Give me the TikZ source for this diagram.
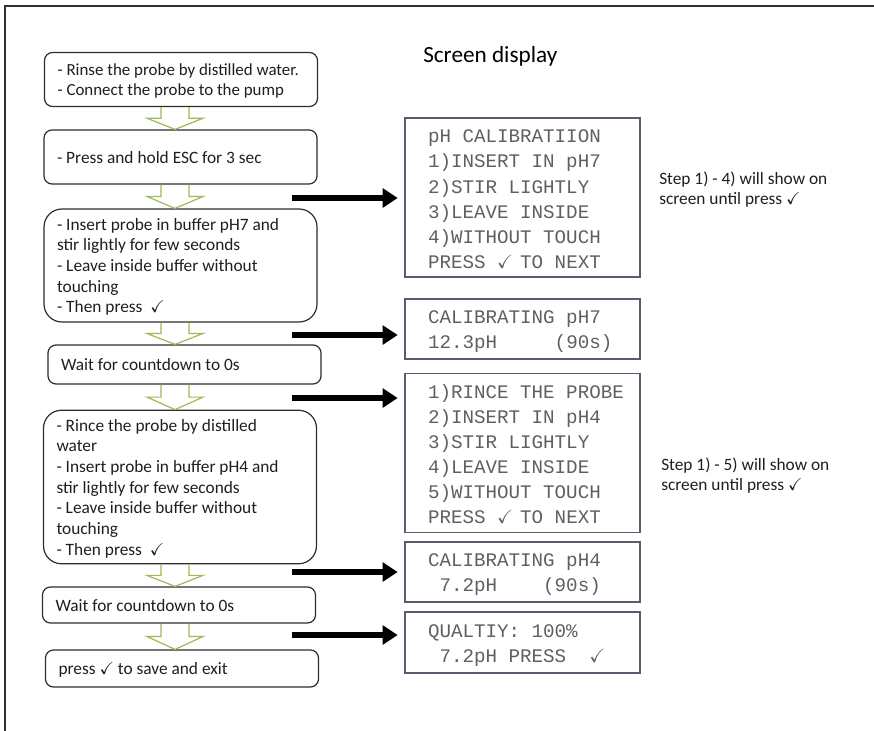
\documentclass[tikz,border=0pt]{standalone}
\usepackage{amsmath}
\usepackage{amssymb}
\usepackage{fontspec}
\setmainfont{Carlito}
\setmonofont{Liberation Mono}
\usetikzlibrary{arrows.meta,calc}

% lines of a box, set left, never broken, with the font's own spaces
\newcommand\boxlines[2][-1.5pt]{{\spaceskip=0pt\xspaceskip=0pt\raisebox{#1}[\height][\depth]{\begin{tabular}{@{}l@{}}#2\end{tabular}}}}
% one fixed cell of the screen font
\newcommand\scrcell[1]{\makebox[0.6em][l]{#1}}

\begin{document}
\begin{tikzpicture}[x=0.75pt,y=0.75pt,yscale=-1,xscale=1,
  stepbox/.style={draw={rgb, 255:red, 45; green, 45; blue, 45 }, line width=0.9pt, rounded corners=6pt, minimum width=204.75pt, text width=185.25pt, inner xsep=9.75pt, align=left, text={rgb, 255:red, 30; green, 30; blue, 30 }, font=\fontsize{13}{15.5}\selectfont},
  screenbox/.style={draw={rgb, 255:red, 88; green, 92; blue, 112 }, line width=1pt, minimum width=176.25pt, text width=141.75pt, inner xsep=17.25pt, align=left, text={rgb, 255:red, 95; green, 95; blue, 95 }, font=\ttfamily\frenchspacing\fontsize{14.4}{18.75}\selectfont},
  notetext/.style={anchor=west, inner sep=0pt, align=left, text={rgb, 255:red, 30; green, 30; blue, 30 }, font=\fontsize{13}{15}\selectfont},
  grnarrow/.style={draw={rgb, 255:red, 155; green, 187; blue, 89 }, line width=0.9pt, line join=miter},
  blkarrow/.style={line width=3.9pt, -{Triangle[length=11.25pt,width=14pt]}, shorten >=5pt}
]
\useasboundingbox (0,0) rectangle (874,731);

%Shape: Frame
\draw [line width=1.5pt, draw={rgb, 255:red, 50; green, 50; blue, 50 }] (874,6) -- (5,6) -- (5,731) ;

% Text Node
\node (ttl) [anchor=west, inner sep=0pt, font=\fontsize{17.4}{20}\selectfont] at (423,56.5) {Screen display};

%Shape: Rounded Rect (steps)
\node (b1) [stepbox, minimum height=40.5pt, font=\fontsize{12.7}{15.5}\selectfont] at (181,79.5) {\boxlines{- Rinse the probe by distilled water.\\- Connect the probe to the pump}};
\node (b2) [stepbox, minimum height=40.5pt] at (180.5,157) {\boxlines{- Press and hold ESC for 3 sec}};
\node (b3) [stepbox, rounded corners=13.5pt, minimum height=84.75pt] at (180.5,265.5) {\boxlines{- Insert probe in buffer pH7 and\\stir lightly for few seconds\\- Leave inside buffer without\\touching\\- Then press \ $\checkmark$}};
\node (b4) [stepbox, minimum height=29.25pt] at (184.5,364.5) {\boxlines{Wait for countdown to 0s}};
\node (b5) [stepbox, rounded corners=13.5pt, minimum height=112.5pt] at (180,487) {\boxlines{- Rince the probe by distilled\\water\\- Insert probe in buffer pH4 and\\stir lightly for few seconds\\- Leave inside buffer without\\touching\\- Then press \ $\checkmark$}};
\node (b6) [stepbox, minimum height=27pt] at (179,605) {\boxlines{Wait for countdown to 0s}};
\node (b7) [stepbox, minimum height=27.75pt] at (182,668.5) {\boxlines{press $\checkmark$ to save and exit}};

%Shape: Rect (screens)
\node (s1) [screenbox, minimum height=117.75pt] at (522.5,197.5) {\boxlines[-2.25pt]{pH CALIBRATIION\\1)INSERT IN pH7\\2)STIR LIGHTLY\\3)LEAVE INSIDE\\4)WITHOUT TOUCH\\PRESS \scrcell{$\checkmark$} TO NEXT}};
\node (s2) [screenbox, minimum height=45pt] at (522.5,329) {\boxlines[-1.5pt]{CALIBRATING pH7\\12.3pH\scrcell{}\scrcell{}\scrcell{}\scrcell{}\scrcell{}(90s)}};
\node (s3) [screenbox, minimum height=118.5pt] at (522.5,453) {\boxlines[-2.25pt]{1)RINCE THE PROBE\\2)INSERT IN pH4\\3)STIR LIGHTLY\\4)LEAVE INSIDE\\5)WITHOUT TOUCH\\PRESS \scrcell{$\checkmark$} TO NEXT}};
\node (s4) [screenbox, minimum height=45pt] at (522.5,572) {\boxlines[-1.5pt]{CALIBRATING pH4\\\scrcell{}7.2pH\scrcell{}\scrcell{}\scrcell{}\scrcell{}(90s)}};
\node (s5) [screenbox, minimum height=45.75pt] at (522.5,642.5) {\boxlines[-1.5pt]{QUALTIY: 100\%\\\scrcell{}7.2pH PRESS\scrcell{}\scrcell{}\scrcell{$\checkmark$}}};

% Text Node
\node (n1) [notetext] at (659,189) {\boxlines{Step 1) - 4) will show on\\screen until press $\checkmark$}};
\node (n2) [notetext] at (661,474) {\boxlines{Step 1) - 5) will show on\\screen until press $\checkmark$}};

%Shape: Down Arrow (green)
\coordinate (ga) at (175,0);
\foreach \a/\b in {b1/b2,b2/b3,b3/b4,b4/b5,b5/b6,b6/b7}
  \draw [grnarrow] let \p1=(ga |- \a.south), \p2=(ga |- \b.north) in
    (\x1-10.5pt,\y1) -- (\x1-10.5pt,{0.5*\y1+0.5*\y2}) -- (\x1-21pt,{0.5*\y1+0.5*\y2}) -- (\x1,\y2)
    -- (\x1+21pt,{0.5*\y1+0.5*\y2}) -- (\x1+10.5pt,{0.5*\y1+0.5*\y2}) -- (\x1+10.5pt,\y1) ;

%Shape: Right Arrow (black)
\coordinate (a1) at (292,198);
\coordinate (a2) at (292,335);
\coordinate (a3) at (292,398);
\coordinate (a4) at (292,572);
\coordinate (a5) at (292,635);
\foreach \c/\s in {a1/s1,a2/s2,a3/s3,a4/s4,a5/s5}
  \draw [blkarrow] (\c) -- (\c -| \s.west) ;

\end{tikzpicture}
\end{document}
